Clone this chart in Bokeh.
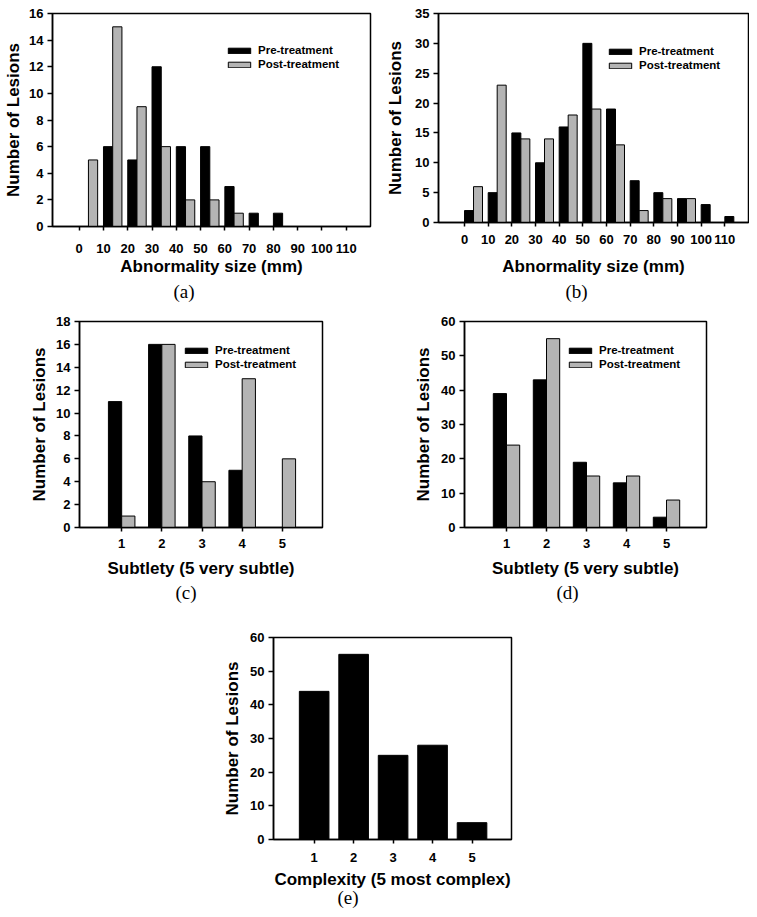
from bokeh.plotting import figure
from bokeh.models import ColumnDataSource, Range1d, FixedTicker, Legend, LegendItem, Title
from bokeh.layouts import column, row
from bokeh.transform import dodge
from bokeh.embed import file_html
from bokeh.resources import INLINE

# ---------------- data ----------------
size_bins = [0, 10, 20, 30, 40, 50, 60, 70, 80, 90, 100, 110]
a_pre = [0, 6, 5, 12, 6, 6, 3, 1, 1, 0, 0, 0]
a_post = [5, 15, 9, 6, 2, 2, 1, 0, 0, 0, 0, 0]
b_pre = [2, 5, 15, 10, 16, 30, 19, 7, 5, 4, 3, 1]
b_post = [6, 23, 14, 14, 18, 19, 13, 2, 4, 4, 0, 0]

levels = [1, 2, 3, 4, 5]
c_pre = [11, 16, 8, 5, 0]
c_post = [1, 16, 4, 13, 6]
d_pre = [39, 43, 19, 13, 3]
d_post = [24, 55, 15, 15, 8]
e_counts = [44, 55, 25, 28, 5]

a_yticks = [0, 2, 4, 6, 8, 10, 12, 14, 16]
b_yticks = [0, 5, 10, 15, 20, 25, 30, 35]
c_yticks = [0, 2, 4, 6, 8, 10, 12, 14, 16, 18]
d_yticks = [0, 10, 20, 30, 40, 50, 60]
e_yticks = [0, 10, 20, 30, 40, 50, 60]

PRE_COLOR = "#000000"
POST_COLOR = "#b4b4b4"
SANS = "Liberation Sans"
SERIF = "Liberation Serif"


def make_fig(fw, fh, bl, br, bt, bb, xr, yr):
    p = figure(frame_width=fw, frame_height=fh, min_border_left=bl, min_border_right=br,
               min_border_top=bt, min_border_bottom=bb, x_range=Range1d(*xr), y_range=Range1d(*yr),
               output_backend="svg", toolbar_location=None)
    p.outline_line_color = "black"
    p.outline_line_width = 1.5
    p.outline_line_alpha = 1.0
    p.grid.visible = False
    p.background_fill_color = "white"
    p.border_fill_color = "white"
    return p


def style_axes(p, xticks, yticks, xlabel, tick_standoff, label_standoff, ylabel_standoff):
    xa = p.xaxis[0]
    ya = p.yaxis[0]
    xa.ticker = FixedTicker(ticks=xticks)
    ya.ticker = FixedTicker(ticks=yticks)
    for ax, tout in ((xa, 4), (ya, 5)):
        ax.major_tick_out = tout
        ax.major_tick_in = 0
        ax.minor_tick_out = 0
        ax.minor_tick_in = 0
        ax.axis_line_width = 1.5
        ax.axis_line_color = "black"
        ax.major_tick_line_width = 1.5
        ax.major_tick_line_color = "black"
        ax.major_label_text_font = SANS
        ax.major_label_text_font_style = "bold"
        ax.major_label_text_font_size = "13px"
        ax.major_label_text_color = "black"
        ax.axis_label_text_font = SANS
        ax.axis_label_text_font_style = "bold"
        ax.axis_label_text_font_size = "17px"
        ax.axis_label_text_color = "black"
    xa.axis_label = xlabel
    xa.major_label_standoff = tick_standoff
    xa.axis_label_standoff = label_standoff
    ya.axis_label = "Number of Lesions"
    ya.major_label_standoff = 4
    ya.axis_label_standoff = ylabel_standoff


def add_panel_label(p, text, offset, standoff):
    t = Title(text=text, align="left", offset=offset, standoff=standoff,
              text_font=SERIF, text_font_style="normal", text_font_size="19px",
              text_color="black")
    p.add_layout(t, "below")


def add_legend(p, r_pre, r_post, x, y):
    leg = Legend(items=[LegendItem(label="Pre-treatment", renderers=[r_pre]),
                        LegendItem(label="Post-treatment", renderers=[r_post])],
                 location=(x, y), glyph_width=28, glyph_height=7, label_height=14,
                 label_standoff=5, spacing=0, padding=0, margin=0,
                 border_line_color=None, background_fill_alpha=0,
                 label_text_font=SANS, label_text_font_style="bold",
                 label_text_font_size="11.5px", label_text_color="black")
    p.add_layout(leg)


def paired_panel(bins, pre, post, w, off_pre, off_post, fw, fh, bl, br, bt, bb, xr, ymax,
                 xticks, yticks, xlabel, tick_standoff, label_standoff, ylabel_standoff,
                 plabel, poff, pstand, legx, legy):
    p = make_fig(fw, fh, bl, br, bt, bb, xr, (0, ymax))
    src = ColumnDataSource(dict(x=bins, pre=pre, post=post))
    r1 = p.vbar(x=dodge("x", off_pre), top="pre", width=w, source=src,
                fill_color=PRE_COLOR, line_color="black", line_width=1)
    r2 = p.vbar(x=dodge("x", off_post), top="post", width=w, source=src,
                fill_color=POST_COLOR, line_color="black", line_width=1)
    style_axes(p, xticks, yticks, xlabel, tick_standoff, label_standoff, ylabel_standoff)
    add_legend(p, r1, r2, legx, legy)
    add_panel_label(p, plabel, poff, pstand)
    return p


W = 3.8
pa = paired_panel(size_bins, a_pre, a_post, W, W / 2, 1.5 * W, 318, 213, 52, 8, 11, 78,
                  (-11, 120), 16, size_bins, a_yticks, "Abnormality size (mm)", 13, 1, 3,
                  "(a)", 121, 1, 173, 155)
pb = paired_panel(size_bins, b_pre, b_post, W, W / 2, 1.5 * W, 310, 209, 60, 1, 13, 80,
                  (-11, 120), 35, size_bins, b_yticks, "Abnormality size (mm)", 8, 10, 7,
                  "(b)", 127, 0, 168, 150)

BW = 0.33
pc = paired_panel(levels, c_pre, c_post, BW, -BW / 2, BW / 2, 243, 206, 79, 56, 19, 83,
                  (-0.05, 6), 18, levels, c_yticks, "Subtlety (5 very subtle)", 7, 8, 4,
                  "(c)", 96, -2, 103, 156)
pd_ = paired_panel(levels, d_pre, d_post, BW, -BW / 2, BW / 2, 242, 206, 86, 43, 19, 83,
                   (-0.05, 6), 60, levels, d_yticks, "Subtlety (5 very subtle)", 7, 8, 5,
                   "(d)", 92, -2, 102, 156)

pe = make_fig(238, 202, 273, 238, 27, 70, (-0.03, 6), (0, 60))
src_e = ColumnDataSource(dict(x=levels, n=e_counts))
pe.vbar(x="x", top="n", width=0.75, source=src_e, fill_color=PRE_COLOR,
        line_color="black", line_width=1)
style_axes(pe, levels, e_yticks, "Complexity (5 most complex)", 9, 5, 5)
add_panel_label(pe, "(e)", 64, -13)

layout = column(row(pa, pb), row(pc, pd_), pe)
open("out.html", "w").write(file_html(layout, INLINE))
